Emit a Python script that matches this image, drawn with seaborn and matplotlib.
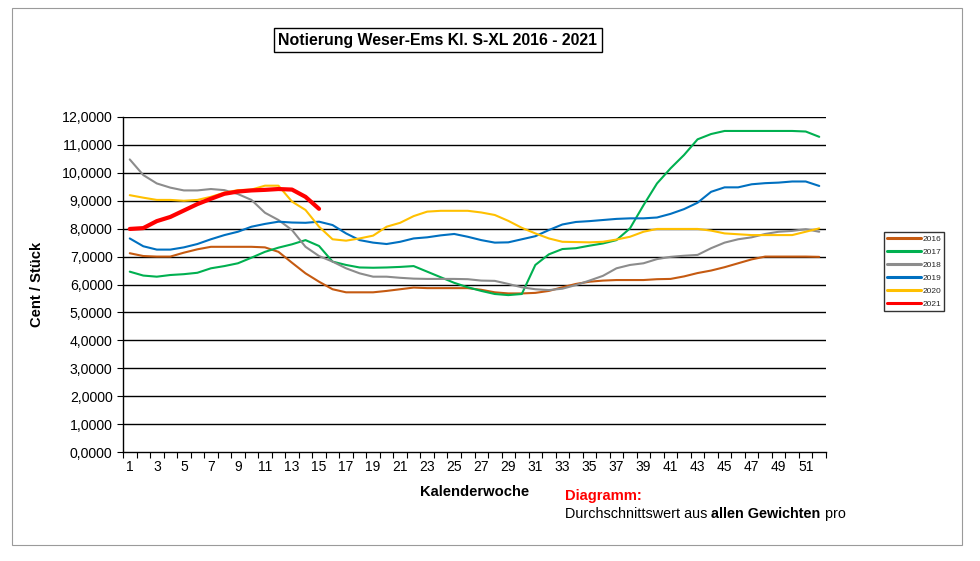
import numpy as np
import pandas as pd
import matplotlib
matplotlib.use("Agg")
import matplotlib.pyplot as plt
from matplotlib.ticker import FuncFormatter
from matplotlib.patches import Rectangle
import seaborn as sns

weeks = list(range(1, 53))

s2016 = [7.12, 7.02, 7.00, 7.00, 7.14, 7.26, 7.35, 7.35, 7.35, 7.35, 7.33, 7.17, 6.78, 6.40, 6.10, 5.83,
         5.72, 5.72, 5.72, 5.77, 5.83, 5.89, 5.87, 5.87, 5.87, 5.87, 5.81, 5.72, 5.68, 5.68, 5.70, 5.77,
         5.90, 6.02, 6.10, 6.14, 6.16, 6.16, 6.16, 6.19, 6.20, 6.29, 6.41, 6.50, 6.62, 6.76, 6.90, 7.00,
         7.00, 7.00, 7.00, 6.99]
s2017 = [6.46, 6.32, 6.28, 6.34, 6.37, 6.42, 6.58, 6.66, 6.76, 6.96, 7.17, 7.32, 7.44, 7.59, 7.38, 6.82,
         6.70, 6.61, 6.60, 6.61, 6.63, 6.66, 6.46, 6.26, 6.06, 5.90, 5.77, 5.66, 5.62, 5.66, 6.70, 7.08,
         7.27, 7.30, 7.39, 7.47, 7.59, 8.01, 8.84, 9.62, 10.16, 10.64, 11.20, 11.39, 11.50, 11.50, 11.50,
         11.50, 11.50, 11.50, 11.48, 11.29]
s2018 = [10.48, 9.92, 9.62, 9.47, 9.37, 9.37, 9.42, 9.38, 9.24, 9.03, 8.57, 8.31, 7.95, 7.35, 7.02, 6.82,
         6.58, 6.40, 6.28, 6.28, 6.24, 6.21, 6.20, 6.20, 6.20, 6.19, 6.14, 6.13, 6.02, 5.90, 5.83, 5.80,
         5.85, 5.98, 6.14, 6.31, 6.58, 6.70, 6.76, 6.91, 6.99, 7.03, 7.06, 7.30, 7.50, 7.62, 7.69, 7.81,
         7.89, 7.92, 7.98, 7.89]
s2019 = [7.65, 7.37, 7.25, 7.25, 7.33, 7.45, 7.62, 7.77, 7.89, 8.07, 8.17, 8.25, 8.22, 8.21, 8.25, 8.13,
         7.83, 7.59, 7.50, 7.45, 7.53, 7.65, 7.69, 7.76, 7.81, 7.71, 7.59, 7.50, 7.51, 7.62, 7.73, 7.95,
         8.15, 8.24, 8.27, 8.31, 8.35, 8.37, 8.37, 8.40, 8.53, 8.70, 8.93, 9.32, 9.48, 9.48, 9.59, 9.63,
         9.65, 9.69, 9.69, 9.53]
s2020 = [9.20, 9.11, 9.03, 9.03, 9.00, 9.03, 9.14, 9.29, 9.38, 9.40, 9.54, 9.54, 8.97, 8.67, 8.07, 7.62,
         7.57, 7.65, 7.75, 8.07, 8.21, 8.45, 8.61, 8.64, 8.64, 8.64, 8.58, 8.49, 8.28, 8.03, 7.83, 7.65,
         7.53, 7.52, 7.51, 7.53, 7.61, 7.71, 7.89, 7.99, 7.99, 7.99, 7.99, 7.93, 7.83, 7.80, 7.77, 7.77,
         7.77, 7.77, 7.89, 8.01]
s2021 = [7.99, 8.02, 8.27, 8.42, 8.65, 8.88, 9.07, 9.25, 9.33, 9.37, 9.39, 9.42, 9.40, 9.14, 8.71]

years = ["2016", "2017", "2018", "2019", "2020", "2021"]
series = [s2016, s2017, s2018, s2019, s2020, s2021]
colors = ["#C55A11", "#00B050", "#8C8C8C", "#0070C0", "#FFC000", "#FF0000"]
widths = [1.5, 1.5, 1.5, 1.5, 1.5, 3.0]

y_ticks = [i for i in range(0, 13)]

sns.set_theme(style="white")
plt.rcParams["font.family"] = ["Liberation Sans", "DejaVu Sans"]

fig = plt.figure(figsize=(9.8, 5.61), dpi=100)
ax = fig.add_axes([123 / 980, 1 - 452 / 561, (826 - 123) / 980, (452 - 117) / 561])

for yr, vals, c, lw in zip(years, series, colors, widths):
    df = pd.DataFrame({"Woche": weeks[:len(vals)], "Wert": vals})
    sns.lineplot(data=df, x="Woche", y="Wert", ax=ax, color=c, linewidth=lw, label=yr)

ax.set_xlim(0.5, 52.5)
ax.set_ylim(0, 12)
ax.set_yticks(y_ticks)
ax.yaxis.set_major_formatter(FuncFormatter(lambda v, p: f"{v:.4f}".replace(".", ",")))
ax.set_xticks(list(range(1, 53, 2)))
ax.set_xticks([w + 0.5 for w in range(0, 53)], minor=True)
ax.tick_params(axis="x", which="major", length=0, labelsize=10, pad=6, colors="black")
ax.tick_params(axis="x", which="minor", length=4, width=0.8, direction="out", color="black", bottom=True)
ax.tick_params(axis="y", which="major", length=4, width=0.8, direction="out", labelsize=10.2, colors="black", left=True)

ax.grid(False)
for v in y_ticks[1:]:
    ax.axhline(v, color="black", lw=1.0, zorder=0)
for sp in ["top", "right"]:
    ax.spines[sp].set_visible(False)
for sp in ["left", "bottom"]:
    ax.spines[sp].set_color("black")
    ax.spines[sp].set_linewidth(1.0)

ax.set_xlabel("Kalenderwoche", fontsize=10.6, fontweight="bold", labelpad=8, color="black")
ax.set_ylabel("Cent / Stück", fontsize=10.6, fontweight="bold", labelpad=13, color="black")

leg = ax.legend(loc="upper left", bbox_to_anchor=(884 / 980, 1 - 232 / 561),
                bbox_transform=fig.transFigure, fontsize=6, frameon=True, fancybox=False,
                edgecolor="black", handlelength=4.0, handletextpad=0.2, labelspacing=0.62,
                borderpad=0.4, borderaxespad=0)
leg.get_frame().set_linewidth(1.0)
for h in leg.get_lines():
    h.set_linewidth(2.2)

fig.text(438 / 980, 1 - 40 / 561, "Notierung Weser-Ems Kl. S-XL 2016 - 2021", ha="center", va="center",
         fontsize=11.4, fontweight="bold", color="black",
         bbox=dict(boxstyle="square,pad=0.3", fc="white", ec="black", lw=1.0))

fig.patches.append(Rectangle((12 / 980, 1 - 545 / 561), 950 / 980, 537 / 561, transform=fig.transFigure,
                             fill=False, ec="#9a9a9a", lw=0.8))

fig.text(565 / 980, 1 - 496 / 561, "Diagramm:", ha="left", va="center", fontsize=10.6,
         fontweight="bold", color="#FF0000")

pieces = [("Durchschnittswert aus ", "normal"), ("allen Gewichten", "bold"), (" pro", "normal")]
fig.canvas.draw()
renderer = fig.canvas.get_renderer()
xpix = 565
for txt, wt in pieces:
    t = fig.text(xpix / 980, 1 - 514 / 561, txt, ha="left", va="center", fontsize=10.4,
                 fontweight=wt, color="black")
    bb = t.get_window_extent(renderer=renderer)
    xpix = xpix + bb.width

fig.savefig("out.png", dpi=100)
